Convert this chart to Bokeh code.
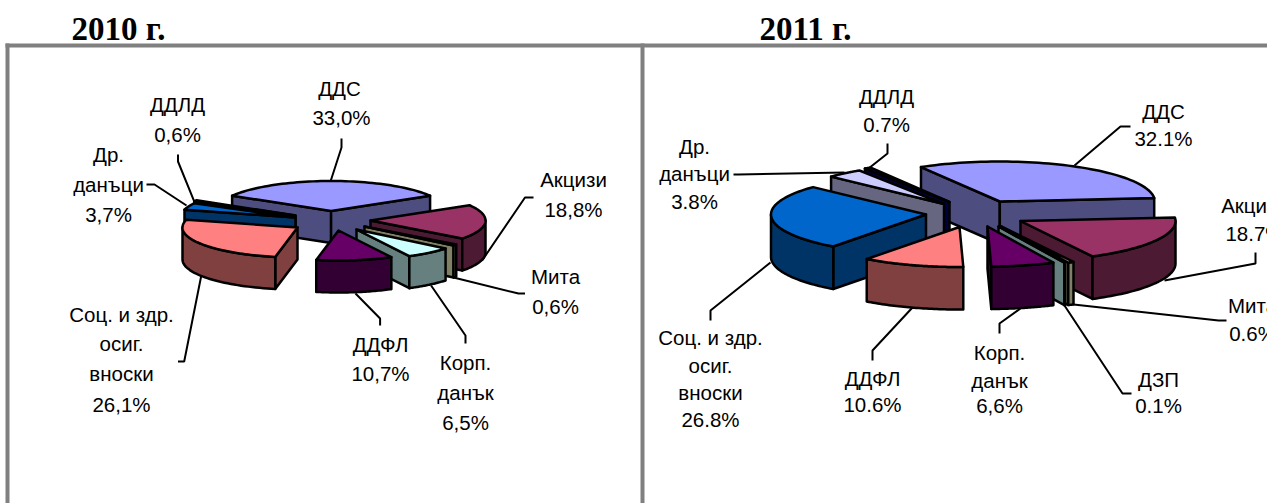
import numpy as np
from bokeh.plotting import figure
from bokeh.models import Range1d, ColumnDataSource
from bokeh.core.properties import value
from bokeh.embed import file_html
from bokeh.resources import INLINE

# ---- data ----
names_2010 = ["ДДС", "Акцизи", "Мита", "Корп. данък", "ДДФЛ", "Соц. и здр. осиг. вноски", "Др. данъци", "ДДЛД"]
values_2010 = [33.0, 18.8, 0.6, 6.5, 10.7, 26.1, 3.7, 0.6]
names_2011 = ["ДДС", "Акцизи", "Мита", "ДЗП", "Корп. данък", "ДДФЛ", "Соц. и здр. осиг. вноски", "Др. данъци", "ДДЛД"]
values_2011 = [32.1, 18.7, 0.6, 0.1, 6.6, 10.6, 26.8, 3.8, 0.7]
titles = ["2010 г.", "2011 г."]

# ---- styles and layout ----
tops_2010 = ["#9999FF", "#993366", "#FFFFCC", "#CCFFFF", "#660066", "#FF8080", "#0066CC", "#CCCCFF"]
sides_2010 = ["#4D4D80", "#4D1A33", "#808066", "#668080", "#330033", "#804040", "#003366", "#666680"]
tops_2011 = ["#9999FF", "#993366", "#FFFFCC", "#CCFFFF", "#660066", "#FF8080", "#0066CC", "#CCCCFF", "#000080"]
sides_2011 = ["#4D4D80", "#4D1A33", "#808066", "#668080", "#330033", "#804040", "#003366", "#666680", "#000040"]

apex_2010 = [(330.6, 210.5), (370, 220), (364, 226), (356, 229), (338, 230), (297, 227), (295, 217), (295, 215)]
apex_2011 = [(999.3, 201), (1020, 220.5), (1001, 226), (998, 226), (987, 226), (959, 226.5), (925.5, 214), (943.5, 203.5), (949, 201.5)]
order_2010 = [0, 7, 6, 1, 2, 3, 5, 4]
order_2011 = [0, 8, 7, 6, 1, 2, 3, 4, 5]
pie_2010 = dict(start=-59.4, rx=115, ry=30, depth=32)
pie_2011 = dict(start=-30.56, rx=155, ry=40, depth=42.5)

leaders = [
    [(341, 138), (341, 147), (330, 181)],
    [(177.5, 154), (177.5, 161), (194, 201.7)],
    [(146, 184), (154, 184), (186, 205)],
    [(533, 197), (524.5, 197), (481.6, 260)],
    [(524.5, 293), (518, 293), (453, 277)],
    [(465, 343), (465, 335), (430.6, 285)],
    [(379.6, 325), (379.6, 318), (355, 293)],
    [(177.5, 361), (183.7, 361), (200.8, 275)],
    [(1130, 126), (1120, 126), (1074, 165)],
    [(887, 143), (887, 153), (868, 168)],
    [(733, 174), (738, 174), (844, 172)],
    [(1255, 252), (1255, 263), (1164, 280)],
    [(1226, 320), (1218, 320), (1064, 303)],
    [(1131, 393), (1122, 393), (1064, 305)],
    [(999, 333), (999, 323), (1020, 308)],
    [(872, 360), (872, 350), (912, 307)],
    [(710, 320), (710, 310), (770, 262)],
]

labels = [
    ("ДДС", 339, 88), ("33,0%", 341, 117),
    ("ДДЛД", 177, 104), ("0,6%", 177, 134),
    ("Др.", 108, 154), ("данъци", 108, 184), ("3,7%", 108, 214),
    ("Акцизи", 573, 179), ("18,8%", 573, 209),
    ("Мита", 555, 276), ("0,6%", 555, 306),
    ("Соц. и здр.", 121, 314), ("осиг.", 121, 343), ("вноски", 121, 373), ("26,1%", 121, 404),
    ("ДДФЛ", 380, 344), ("10,7%", 380, 373),
    ("Корп.", 465, 362), ("данък", 465, 392), ("6,5%", 465, 422),
    ("ДДС", 1163, 111), ("32.1%", 1163, 138),
    ("ДДЛД", 886, 96), ("0.7%", 886, 124),
    ("Др.", 694, 146), ("данъци", 694, 173), ("3.8%", 694, 201),
    ("Акцизи", 1254, 205), ("18.7%", 1254, 233),
    ("Мита", 1252, 305), ("0.6%", 1252, 333),
    ("Соц. и здр.", 710, 337), ("осиг.", 710, 365), ("вноски", 710, 392), ("26.8%", 710, 419),
    ("ДДФЛ", 872, 378), ("10.6%", 872, 404),
    ("Корп.", 999, 352), ("данък", 999, 380), ("6,6%", 999, 405),
    ("ДЗП", 1158, 379), ("0.1%", 1158, 405),
]

FRAME = "#808080"
frame_boxes = [(5, 1267, 43, 47), (5, 9, 43, 503), (640, 644, 43, 503)]
title_pos = [(118, 28), (805, 28)]
LABEL_PX = "20.5px"
TITLE_PX = "33px"


def slice_faces(vals, tops, sides, apexes, order, pie):
    """Project each slice of the exploded 3D pie into side faces and a top face."""
    edges = pie["start"] + np.concatenate([[0], np.cumsum(vals)]) / np.sum(vals) * 360.0
    rx, ry, d = pie["rx"], pie["ry"], pie["depth"]
    xs, ys, cols = [], [], []

    def point(cx, cy, deg):
        t = np.radians(deg)
        return cx + rx * np.sin(t), cy - ry * np.cos(t)

    for i in order:
        a, b = edges[i], edges[i + 1]
        cx, cy = apexes[i]
        # cut faces turned towards the viewer
        if np.sin(np.radians(a)) < 0:
            px, py = point(cx, cy, a)
            xs.append([cx, px, px, cx]); ys.append([cy, py, py + d, cy + d]); cols.append(sides[i])
        if np.sin(np.radians(b)) > 0:
            px, py = point(cx, cy, b)
            xs.append([cx, px, px, cx]); ys.append([cy, py, py + d, cy + d]); cols.append(sides[i])
        # front part of the rim
        lo, hi = max(a, 90.0), min(b, 270.0)
        if hi > lo:
            px, py = point(cx, cy, np.linspace(lo, hi, 40))
            xs.append(list(px) + list(px[::-1])); ys.append(list(py) + list(py[::-1] + d)); cols.append(sides[i])
        # top
        px, py = point(cx, cy, np.linspace(a, b, 60))
        xs.append([cx] + list(px)); ys.append([cy] + list(py)); cols.append(tops[i])
    return xs, ys, cols


p = figure(width=1267, height=503, output_backend="svg", toolbar_location=None,
           x_range=Range1d(0, 1267), y_range=Range1d(503, 0),
           min_border=0, background_fill_color="white")
p.axis.visible = False
p.grid.visible = False
p.outline_line_color = None

l, r, t, b = zip(*frame_boxes)
p.quad(left=l, right=r, top=t, bottom=b, fill_color=FRAME, line_color=None)

p.multi_line([[q[0] for q in ln] for ln in leaders], [[q[1] for q in ln] for ln in leaders],
             line_color="black", line_width=2)

for spec in [(values_2010, tops_2010, sides_2010, apex_2010, order_2010, pie_2010),
             (values_2011, tops_2011, sides_2011, apex_2011, order_2011, pie_2011)]:
    xs, ys, cols = slice_faces(*spec)
    p.patches(xs="xs", ys="ys", fill_color="c", line_color="black", line_width=2.5, line_join="round",
              source=ColumnDataSource(dict(xs=xs, ys=ys, c=cols)))

txt, tx, ty = zip(*labels)
p.text(x=list(tx), y=list(ty), text=list(txt), text_font=value("Liberation Sans"), text_font_size=value(LABEL_PX),
       text_align="center", text_baseline="middle", text_color="black")

p.text(x=[q[0] for q in title_pos], y=[q[1] for q in title_pos], text=titles,
       text_font=value("Liberation Serif"), text_font_style="bold", text_font_size=value(TITLE_PX),
       text_align="center", text_baseline="middle", text_color="black")

open("out.html", "w").write(file_html(p, INLINE))
